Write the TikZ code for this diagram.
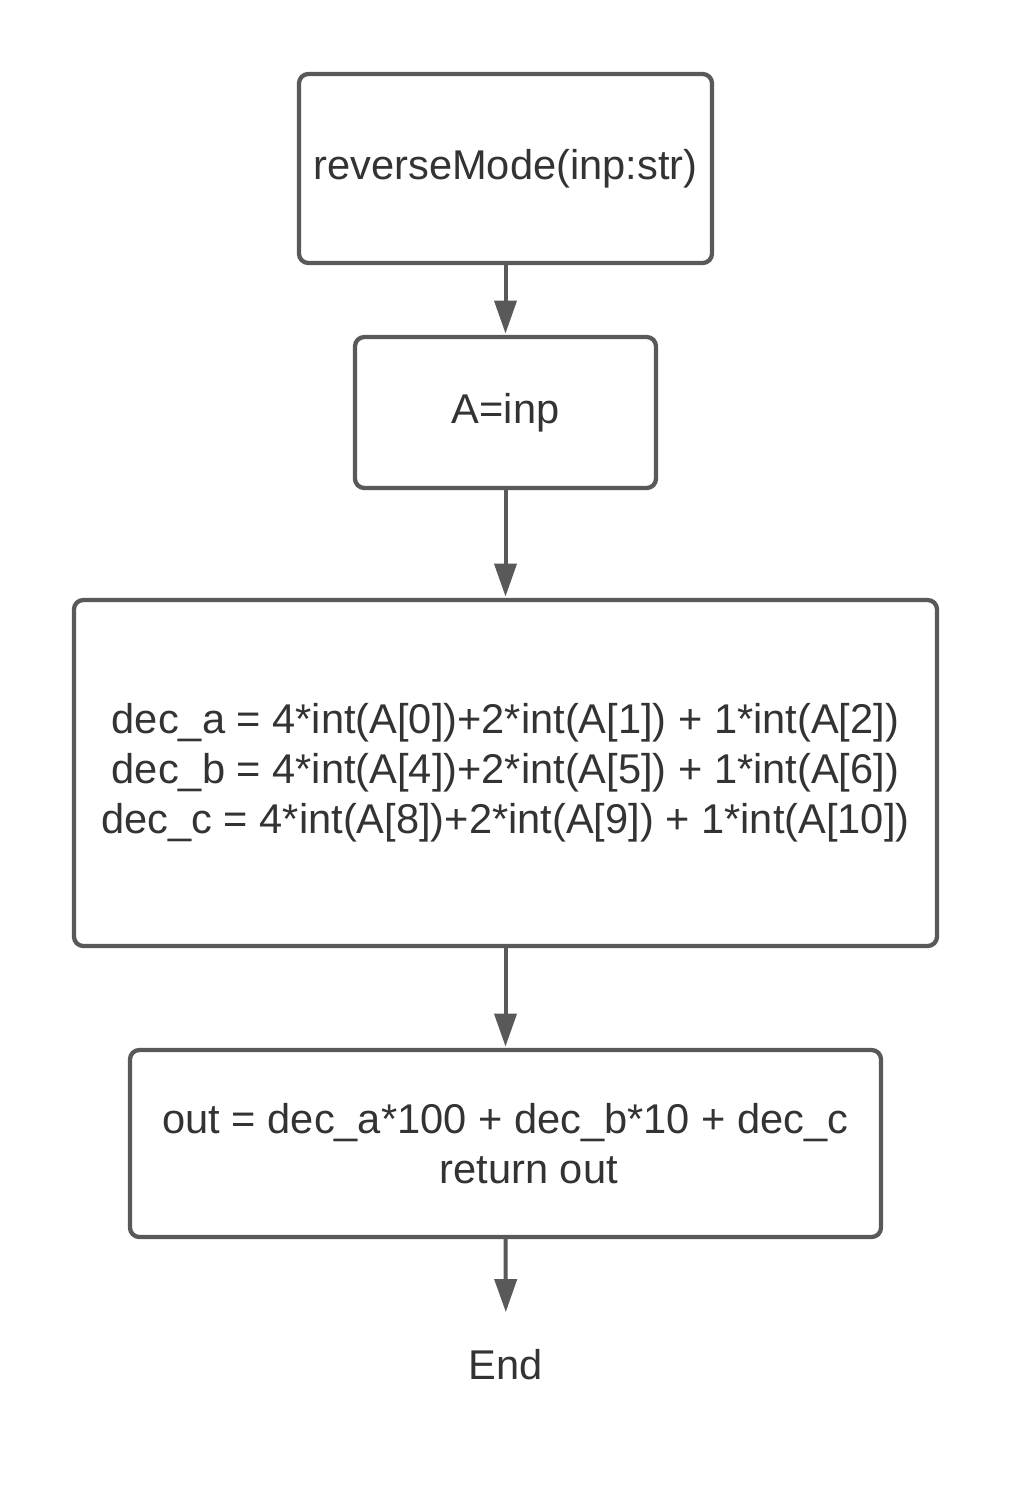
\documentclass[tikz,border=0pt]{standalone}
\usepackage{fontspec}
\setmainfont{Liberation Sans}
\usetikzlibrary{arrows.meta}
\definecolor{linegray}{HTML}{595959}
\definecolor{textgray}{HTML}{333333}
\begin{document}
\begin{tikzpicture}[x=0.75pt,y=-0.75pt,
  box/.style={draw=linegray,line width=3.2pt,rounded corners=7pt,fill=white,
    text=textgray,align=center,inner sep=0pt,
    font=\fontsize{31.2}{37.5}\selectfont},
  conn/.style={draw=linegray,line width=3pt,
    -{Triangle[length=24.75pt,width=16.5pt]},shorten >=1pt},
  lbl/.style={text=textgray,inner sep=0pt,font=\fontsize{31.2}{37.5}\selectfont}]
\useasboundingbox (0,0) rectangle (1013,1500);
\fill[white] (0,0) rectangle (1013,1500);
\node[box,minimum width=309.75pt,minimum height=141.75pt] (b1) at (505.5,168.5) {\raisebox{2pt}{reverseMode(inp:str)}};
\node[box,minimum width=225.75pt,minimum height=113.25pt] (b2) at (505.5,412.5) {\raisebox{1.5pt}{A=inp}};
\node[box,minimum width=647.25pt,minimum height=259.5pt] (b3) at (505.5,773)
  {dec\_a = 4*int(A[0])+2*int(A[1]) + 1*int(A[2])\\
   dec\_b = 4*int(A[4])+2*int(A[5]) + 1*int(A[6])\\
   dec\_c = 4*int(A[8])+2*int(A[9]) + 1*int(A[10])};
\node[box,minimum width=563.25pt,minimum height=140.25pt] (b4) at (505.5,1143.5)
  {out = dec\_a*100 + dec\_b*10 + dec\_c\\ \hspace*{35pt}return out};
\node[lbl] (e) at (506,1365) {End};
\draw[conn] (b1.south) -- (b2.north);
\draw[conn] (b2.south) -- (b3.north);
\draw[conn] (b3.south) -- (b4.north);
\draw[conn,shorten >=28pt] (b4.south) -- (e.north);
\end{tikzpicture}
\end{document}
